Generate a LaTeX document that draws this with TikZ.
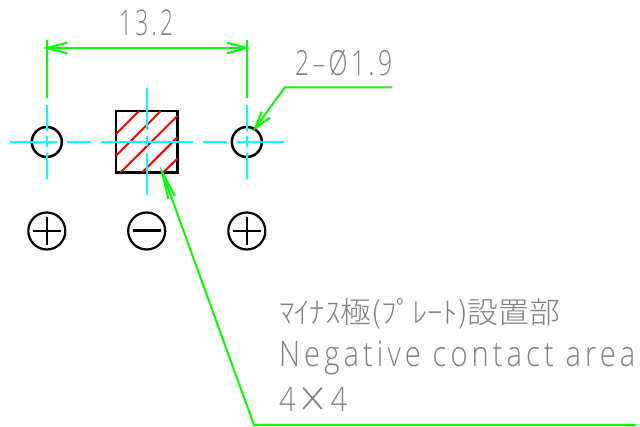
\documentclass[tikz,border=0pt]{standalone}
\usepackage{fontspec}
\usepackage{graphicx}
\setmainfont[LetterSpace=14]{Open Sans Light}
\newfontfamily\jpfont{Noto Sans CJK JP Light}
\definecolor{lgreen}{HTML}{00FF00}
\definecolor{lcyan}{HTML}{00FFFF}
\definecolor{lred}{HTML}{FF0000}
\definecolor{lgray}{HTML}{808080}
\newcommand\fittext[3]{\resizebox*{#1pt}{#2pt}{#3}}
\tikzset{
  x=1pt,y=-1pt,
  label text/.style={anchor=base west,inner sep=0pt,text=lgray},
  hole/.style={circle,draw=black,line width=2.5pt,minimum size=30pt,inner sep=0pt},
  polarity/.style={circle,draw=black,line width=2.2pt,minimum size=37pt,inner sep=0pt},
  centre line/.style={draw=lcyan,line width=2pt},
  dim line/.style={draw=lgreen,line width=2pt},
  hatch line/.style={draw=lred,line width=2pt},
  sign/.style={draw=black,line width=2.2pt},
}
\begin{document}
\begin{tikzpicture}
\useasboundingbox (0,0) rectangle (640,427);
% holes and contact area
\node[hole] (hl) at (46.8,142) {};
\node[hole] (hr) at (246.8,142) {};
\node[draw=black,line width=2.5pt,minimum width=61.5pt,minimum height=61.5pt,inner sep=0pt] (sq) at (146.7,142) {};
% hatching
\foreach \a/\b/\c/\d in {116/134/139/111,116/155.7/160.7/111,120.7/172.3/177.3/116,142.3/172.3/177.3/137.3,163.3/172.3/177.3/158.7}
  \draw[hatch line] (\a,\b) -- (\c,\d);
% centre lines
\draw[centre line] (9.5,142) -- (56.7,142) (66.7,142) -- (90.7,142) (101,142) -- (192.7,142) (203,142) -- (227,142) (236.7,142) -- (284,142);
\foreach \x in {46.8,246.8}
  \draw[centre line] (\x,105) -- (\x,131) (\x,136) -- (\x,147.5) (\x,152.7) -- (\x,179);
\draw[centre line] (146.7,88) -- (146.7,130) (146.7,135.7) -- (146.7,146.5) (146.7,152.7) -- (146.7,195);
% polarity symbols
\node[polarity] (pa) at (46.8,231) {};
\node[polarity] (pb) at (146.7,231) {};
\node[polarity] (pc) at (246.8,231) {};
\draw[sign] (32.8,231) -- (60.8,231) (46.8,217) -- (46.8,245);
\draw[sign] (232.8,231) -- (260.8,231) (246.8,217) -- (246.8,245);
\draw[black,line width=3pt] (132.7,231) -- (160.7,231);
% dimension
\coordinate (da) at (46.8,48);
\coordinate (db) at (246.8,48);
\draw[dim line] (46.8,40) -- (46.8,98) (246.8,40) -- (246.8,98);
\draw[dim line] (da) -- (db);
\draw[dim line] (67,42.7) -- (da) -- (67,53.3);
\draw[dim line] (227,42.7) -- (db) -- (227,53.3);
% hole leader
\coordinate (la) at (392,87.3);
\coordinate (lb) at (285,87.3);
\coordinate (lt) at (255,128.3);
\draw[dim line] (la) -- (lb) -- (lt);
\draw[dim line] (261.7,111.7) -- (lt) -- (270,117.7);
% area leader
\coordinate (aa) at (636,425);
\coordinate (ab) at (254,425);
\coordinate (at) at (162.3,172.3);
\draw[dim line] (aa) -- (ab) -- (at);
\draw[dim line] (175,196) -- (at) -- (168.3,199);
% labels
\node[label text] (t1) at (119,36) {\fittext{54}{26}{13.2}};
\node[label text] (t2) at (295,76) {\fittext{97}{26}{2–Ø1.9}};
\node[label text] (t3) at (279,324) {\fittext{281}{31}{\jpfont ﾏｲﾅｽ極(ﾌﾟﾚｰﾄ)設置部}};
\node[label text] (t4) at (279,367) {\fittext{356}{34}{Negative contact area}};
\node[label text] (t5) at (279,411) {\fittext{68}{24}{4\,\smash{\raisebox{-0.3ex}{\scalebox{1.5}{×}}}\,4}};
\end{tikzpicture}
\end{document}
